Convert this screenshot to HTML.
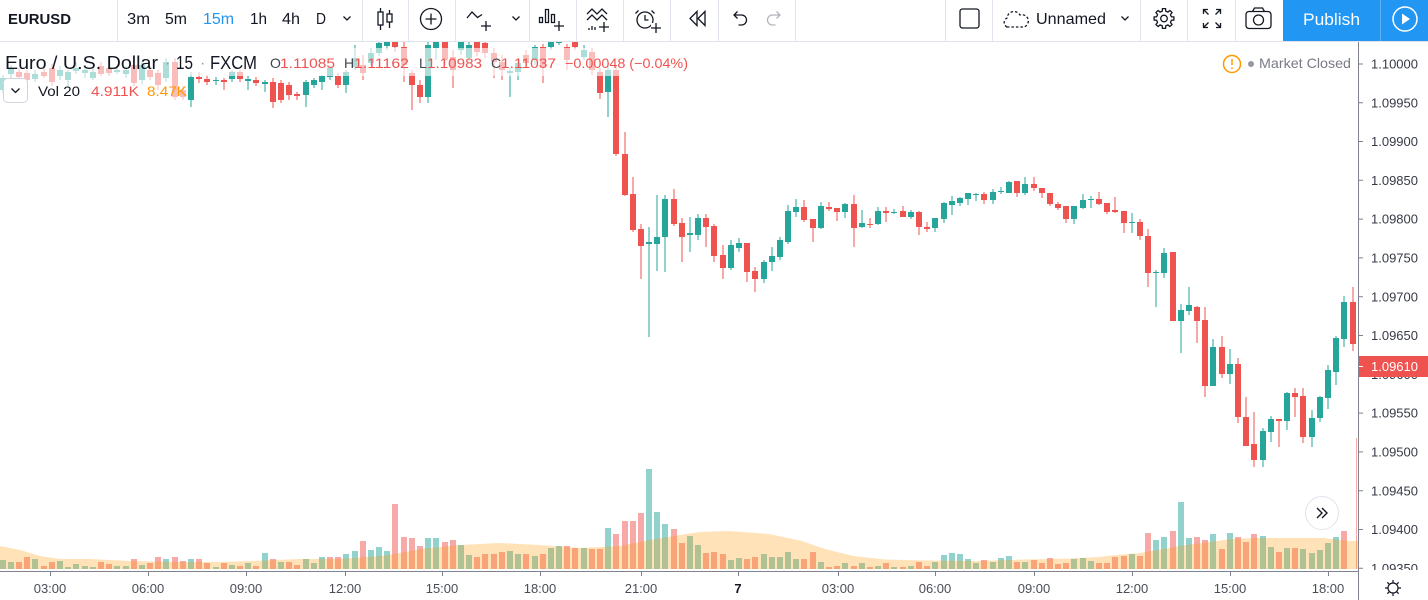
<!DOCTYPE html>
<html><head><meta charset="utf-8"><style>
html,body{margin:0;padding:0;background:#fff;width:1428px;height:600px;overflow:hidden}
svg{display:block}
text{font-family:"Liberation Sans",sans-serif}
</style></head><body>
<svg width="1428" height="600" viewBox="0 0 1428 600" xmlns="http://www.w3.org/2000/svg">
<defs>
<clipPath id="c"><rect x="0" y="42" width="1358" height="529"/></clipPath>
<clipPath id="pa"><rect x="1359" y="42" width="69" height="528"/></clipPath>
</defs>
<rect width="1428" height="600" fill="#fff"/>

<!-- CHART -->
<g clip-path="url(#c)">
<!-- volume -->
<path fill="rgba(38,166,154,0.5)" d="M0 560h6V569h-6zM8 562h6V569h-6zM32 559h6V569h-6zM57 561h6V569h-6zM65 567h6V569h-6zM73 564h6V569h-6zM82 566h6V569h-6zM90 567h6V569h-6zM114 566h6V569h-6zM123 566h6V569h-6zM139 565h6V569h-6zM163 559h6V569h-6zM188 559h6V569h-6zM213 567h6V569h-6zM229 565h6V569h-6zM245 563h6V569h-6zM262 553h6V569h-6zM278 562h6V569h-6zM303 559h6V569h-6zM311 563h6V569h-6zM319 557h6V569h-6zM343 554h6V569h-6zM352 551h6V569h-6zM368 550h6V569h-6zM376 547h6V569h-6zM384 551h6V569h-6zM425 538h6V569h-6zM433 538h6V569h-6zM458 545h6V569h-6zM466 555h6V569h-6zM507 551h6V569h-6zM515 554h6V569h-6zM532 556h6V569h-6zM548 548h6V569h-6zM556 546h6V569h-6zM581 548h6V569h-6zM605 528h6V569h-6zM646 469h6V569h-6zM654 512h6V569h-6zM662 524h6V569h-6zM687 536h6V569h-6zM695 545h6V569h-6zM728 560h6V569h-6zM736 558h6V569h-6zM761 554h6V569h-6zM769 557h6V569h-6zM777 557h6V569h-6zM785 552h6V569h-6zM793 559h6V569h-6zM818 562h6V569h-6zM842 563h6V569h-6zM859 563h6V569h-6zM875 566h6V569h-6zM891 567h6V569h-6zM908 566h6V569h-6zM932 562h6V569h-6zM941 555h6V569h-6zM949 553h6V569h-6zM957 554h6V569h-6zM965 559h6V569h-6zM973 563h6V569h-6zM990 562h6V569h-6zM998 558h6V569h-6zM1006 556h6V569h-6zM1022 562h6V569h-6zM1071 559h6V569h-6zM1080 558h6V569h-6zM1088 561h6V569h-6zM1129 554h6V569h-6zM1153 540h6V569h-6zM1161 537h6V569h-6zM1178 502h6V569h-6zM1186 538h6V569h-6zM1210 534h6V569h-6zM1227 533h6V569h-6zM1260 536h6V569h-6zM1268 547h6V569h-6zM1284 548h6V569h-6zM1300 549h6V569h-6zM1309 553h6V569h-6zM1317 550h6V569h-6zM1325 543h6V569h-6zM1333 537h6V569h-6z"/>
<path fill="rgba(239,83,80,0.5)" d="M16 562h6V569h-6zM24 557h6V569h-6zM41 566h6V569h-6zM49 562h6V569h-6zM98 562h6V569h-6zM106 564h6V569h-6zM131 559h6V569h-6zM147 563h6V569h-6zM155 557h6V569h-6zM172 557h6V569h-6zM180 561h6V569h-6zM196 559h6V569h-6zM204 563h6V569h-6zM221 563h6V569h-6zM237 566h6V569h-6zM253 566h6V569h-6zM270 559h6V569h-6zM286 562h6V569h-6zM294 565h6V569h-6zM327 557h6V569h-6zM335 557h6V569h-6zM360 541h6V569h-6zM392 504h6V569h-6zM401 537h6V569h-6zM409 538h6V569h-6zM417 546h6V569h-6zM442 542h6V569h-6zM450 540h6V569h-6zM474 557h6V569h-6zM482 554h6V569h-6zM491 554h6V569h-6zM499 552h6V569h-6zM523 554h6V569h-6zM540 554h6V569h-6zM564 546h6V569h-6zM572 548h6V569h-6zM589 549h6V569h-6zM597 549h6V569h-6zM613 534h6V569h-6zM622 521h6V569h-6zM630 521h6V569h-6zM638 513h6V569h-6zM671 529h6V569h-6zM679 543h6V569h-6zM703 553h6V569h-6zM711 552h6V569h-6zM720 554h6V569h-6zM744 559h6V569h-6zM752 557h6V569h-6zM801 559h6V569h-6zM810 552h6V569h-6zM826 567h6V569h-6zM834 566h6V569h-6zM851 566h6V569h-6zM867 567h6V569h-6zM883 563h6V569h-6zM900 567h6V569h-6zM916 562h6V569h-6zM924 566h6V569h-6zM981 560h6V569h-6zM1014 562h6V569h-6zM1031 560h6V569h-6zM1039 563h6V569h-6zM1047 558h6V569h-6zM1055 564h6V569h-6zM1063 563h6V569h-6zM1096 563h6V569h-6zM1104 563h6V569h-6zM1112 557h6V569h-6zM1121 556h6V569h-6zM1137 556h6V569h-6zM1145 533h6V569h-6zM1170 531h6V569h-6zM1194 537h6V569h-6zM1202 540h6V569h-6zM1219 549h6V569h-6zM1235 537h6V569h-6zM1243 542h6V569h-6zM1251 534h6V569h-6zM1276 552h6V569h-6zM1292 548h6V569h-6zM1341 531h6V569h-6z"/>
<rect x="1356" y="438" width="1" height="131" fill="rgba(239,83,80,0.5)"/>
<!-- volume MA area -->
<polygon fill="rgba(255,152,0,0.28)" points="0,546 20,550 40,556 60,559 90,559 130,561 180,562 220,562 250,561 300,559 340,559 380,556 400,553 420,549 460,545 500,543 540,545 580,548 620,546 650,540 680,535 700,532 728,531 769,534 802,541 825,549 853,556 885,559.5 931,560.5 978,561 1024,559.5 1070,558.5 1098,557 1116,555 1140,553 1163,549 1186,545 1209,542 1232,539 1255,538 1278,538 1301,538 1324,538 1348,541 1358,541 1358,569 0,569"/>

<!-- candles green -->
<g shape-rendering="crispEdges">
<path stroke="#26a69a" stroke-width="1" fill="none" d="M3 75V93M11 65V78M35 70V82M60 66V80M68 70V86M76 62V74M85 66V78M93 68V80M117 66V74M126 66V78M142 62V84M166 58V82M191 72V107M216 77V85M232 70V82M248 76V90M265 80V92M306 80V107M314 78V88M322 75V90M330 65V80M346 70V93M355 45V70M371 48V66M379 41V56M387 38V50M428 41V103M436 36V60M461 36V55M469 41V62M510 68V97M518 58V80M535 45V65M551 36V50M559 38V45M584 45V60M608 62V117M649 227V337M657 195V271M665 195V272M690 217V252M698 214V240M731 240V270M739 238V252M764 260V283M772 247V271M780 237V260M788 205V244M796 199V217M821 202V229M845 203V218M862 210V228M878 207V225M894 209V214M911 210V219M935 218V232M944 202V223M952 196V215M960 197V206M968 193V205M976 193V201M993 189V204M1001 187V194M1009 181V193M1025 177V195M1074 206V224M1083 194V209M1091 196V208M1132 213V233M1156 270V307M1164 248V278M1181 304V353M1189 287V315M1213 339V386M1230 349V384M1263 428V467M1271 416V442M1287 392V430M1312 410V447M1320 396V422M1328 365V409M1336 336V385M1344 296V347"/>
<path fill="#26a69a" d="M0 78h6V90h-6zM8 68h6V74h-6zM32 74h6V79h-6zM57 70h6V76h-6zM65 72h6V80h-6zM73 68h6V71h-6zM82 70h6V73h-6zM90 72h6V78h-6zM114 70h6V72h-6zM123 70h6V74h-6zM139 65h6V80h-6zM163 62h6V78h-6zM188 77h6V100h-6zM213 80h6V81h-6zM229 72h6V79h-6zM245 79h6V81h-6zM262 82h6V84h-6zM303 82h6V95h-6zM311 80h6V85h-6zM319 76h6V82h-6zM327 68h6V77h-6zM343 72h6V85h-6zM352 58h6V67h-6zM368 53h6V63h-6zM376 43h6V53h-6zM384 41h6V46h-6zM425 45h6V97h-6zM433 38h6V48h-6zM458 38h6V50h-6zM466 45h6V58h-6zM507 71h6V73h-6zM515 63h6V72h-6zM532 47h6V60h-6zM548 38h6V47h-6zM556 41h6V43h-6zM581 50h6V57h-6zM605 70h6V92h-6zM646 242h6V244h-6zM654 237h6V244h-6zM662 199h6V237h-6zM687 233h6V235h-6zM695 218h6V235h-6zM728 245h6V268h-6zM736 243h6V248h-6zM761 262h6V279h-6zM769 256h6V262h-6zM777 240h6V257h-6zM785 211h6V242h-6zM793 207h6V212h-6zM818 206h6V228h-6zM842 204h6V212h-6zM859 223h6V227h-6zM875 211h6V224h-6zM891 212h6V213h-6zM908 212h6V217h-6zM932 218h6V228h-6zM941 203h6V219h-6zM949 201h6V205h-6zM957 198h6V203h-6zM965 193h6V199h-6zM973 194h6V195h-6zM990 192h6V200h-6zM998 191h6V192h-6zM1006 182h6V193h-6zM1022 184h6V193h-6zM1071 206h6V219h-6zM1080 200h6V208h-6zM1088 199h6V200h-6zM1129 222h6V223h-6zM1153 272h6V273h-6zM1161 253h6V273h-6zM1178 310h6V321h-6zM1186 305h6V311h-6zM1210 347h6V386h-6zM1227 364h6V374h-6zM1260 431h6V460h-6zM1268 419h6V432h-6zM1284 393h6V421h-6zM1309 418h6V437h-6zM1317 397h6V418h-6zM1325 370h6V398h-6zM1333 338h6V372h-6zM1341 302h6V339h-6z"/>
<!-- candles red -->
<path stroke="#ef5350" stroke-width="1" fill="none" d="M19 68V80M27 70V84M44 68V78M52 64V86M101 62V76M109 66V76M134 62V86M150 66V80M158 70V90M175 58V100M183 86V100M199 72V83M207 75V85M224 78V90M240 70V82M256 77V86M273 78V108M281 80V103M289 82V100M297 92V100M338 73V88M363 55V80M395 36V52M404 41V82M412 70V110M420 80V103M445 36V65M453 50V88M477 36V56M485 40V58M494 48V78M502 55V80M526 50V66M543 44V83M567 44V70M575 36V50M592 48V75M600 68V99M616 66V156M625 132V196M633 177V232M641 224V279M674 189V226M682 218V262M706 214V247M714 224V262M723 245V279M747 243V282M755 267V292M804 200V222M813 219V242M829 202V211M837 208V221M854 195V247M870 218V228M886 207V222M903 206V217M919 211V235M927 222V232M984 192V204M1017 181V197M1034 177V191M1042 188V198M1050 193V206M1058 202V210M1066 206V223M1099 192V205M1107 203V214M1115 197V213M1124 211V233M1140 219V240M1148 229V287M1173 252V321M1197 306V343M1205 307V397M1222 336V378M1238 358V423M1246 397V446M1254 412V467M1279 419V447M1295 388V417M1303 388V443M1353 287V351"/>
<path fill="#ef5350" d="M16 72h6V77h-6zM24 73h6V80h-6zM41 72h6V76h-6zM49 68h6V82h-6zM98 66h6V74h-6zM106 68h6V73h-6zM131 65h6V83h-6zM147 70h6V77h-6zM155 73h6V85h-6zM172 62h6V97h-6zM180 90h6V97h-6zM196 77h6V79h-6zM204 79h6V82h-6zM221 80h6V82h-6zM237 72h6V79h-6zM253 80h6V83h-6zM270 82h6V102h-6zM278 83h6V100h-6zM286 85h6V95h-6zM294 94h6V96h-6zM335 76h6V85h-6zM360 65h6V73h-6zM392 38h6V47h-6zM401 47h6V65h-6zM409 73h6V85h-6zM417 85h6V97h-6zM442 38h6V60h-6zM450 57h6V70h-6zM474 38h6V52h-6zM482 43h6V53h-6zM491 53h6V62h-6zM499 62h6V70h-6zM523 55h6V63h-6zM540 47h6V67h-6zM564 47h6V60h-6zM572 38h6V47h-6zM589 52h6V70h-6zM597 72h6V93h-6zM613 70h6V154h-6zM622 154h6V195h-6zM630 194h6V230h-6zM638 229h6V246h-6zM671 199h6V224h-6zM679 223h6V237h-6zM703 218h6V227h-6zM711 226h6V256h-6zM720 255h6V268h-6zM744 243h6V272h-6zM752 271h6V279h-6zM801 207h6V220h-6zM810 219h6V228h-6zM826 207h6V209h-6zM834 208h6V212h-6zM851 204h6V228h-6zM867 224h6V225h-6zM883 211h6V213h-6zM900 211h6V217h-6zM916 212h6V227h-6zM924 227h6V229h-6zM981 194h6V200h-6zM1014 181h6V193h-6zM1031 184h6V188h-6zM1039 188h6V193h-6zM1047 193h6V204h-6zM1055 204h6V208h-6zM1063 206h6V219h-6zM1096 199h6V204h-6zM1104 203h6V212h-6zM1112 210h6V212h-6zM1121 211h6V223h-6zM1137 222h6V236h-6zM1145 236h6V273h-6zM1170 252h6V321h-6zM1194 307h6V321h-6zM1202 320h6V386h-6zM1219 347h6V374h-6zM1235 364h6V417h-6zM1243 417h6V446h-6zM1251 444h6V460h-6zM1276 419h6V421h-6zM1292 393h6V397h-6zM1300 396h6V437h-6zM1350 302h6V344h-6z"/>
</g>
<!-- legend fade -->
<rect x="0" y="48" width="695" height="28" fill="#fff" fill-opacity="0.62"/>
<rect x="0" y="76" width="188" height="30" fill="#fff" fill-opacity="0.62"/>
</g>

<!-- legend text -->
<text x="5" y="69" font-size="18" fill="#131722" textLength="153" lengthAdjust="spacingAndGlyphs">Euro / U.S. Dollar</text>
<text x="165" y="68" font-size="16" fill="#9598a1">·</text>
<text x="176" y="69" font-size="18" fill="#131722" textLength="17" lengthAdjust="spacingAndGlyphs">15</text>
<text x="200" y="68" font-size="16" fill="#9598a1">·</text>
<text x="210" y="69" font-size="18" fill="#131722" textLength="47" lengthAdjust="spacingAndGlyphs">FXCM</text>
<g font-size="14">
<text x="270" y="68" fill="#434651">O</text>
<text x="280" y="68" fill="#ef5350" textLength="55" lengthAdjust="spacingAndGlyphs">1.11085</text>
<text x="344" y="68" fill="#434651">H</text>
<text x="354" y="68" fill="#ef5350" textLength="55" lengthAdjust="spacingAndGlyphs">1.11162</text>
<text x="419" y="68" fill="#434651">L</text>
<text x="427" y="68" fill="#ef5350" textLength="55" lengthAdjust="spacingAndGlyphs">1.10983</text>
<text x="491" y="68" fill="#434651">C</text>
<text x="501" y="68" fill="#ef5350" textLength="55" lengthAdjust="spacingAndGlyphs">1.11037</text>
<text x="565" y="68" fill="#ef5350" textLength="123" lengthAdjust="spacingAndGlyphs">−0.00048 (−0.04%)</text>
</g>
<rect x="3.5" y="78.5" width="24" height="24" rx="4" fill="#fff" stroke="#d1d4dc"/>
<path d="M11.5 88.5l4 4 4-4" fill="none" stroke="#131722" stroke-width="1.3"/>
<text x="38" y="96" font-size="14" fill="#131722" textLength="42" lengthAdjust="spacingAndGlyphs">Vol 20</text>
<text x="91" y="96" font-size="14" fill="#ef5350" textLength="48" lengthAdjust="spacingAndGlyphs">4.911K</text>
<text x="147" y="96" font-size="14" fill="#ff9800" textLength="40" lengthAdjust="spacingAndGlyphs">8.47K</text>

<!-- market closed -->
<circle cx="1232" cy="64" r="8.5" fill="#fff" stroke="#ff9800" stroke-width="1.5"/>
<path d="M1232 59v6" stroke="#ff9800" stroke-width="1.5"/>
<circle cx="1232" cy="68.3" r="0.9" fill="#ff9800"/>
<circle cx="1251" cy="64" r="3" fill="#9598a1"/>
<text x="1259" y="68" font-size="14" fill="#787b86" textLength="92" lengthAdjust="spacingAndGlyphs">Market Closed</text>

<!-- scroll button -->
<circle cx="1322" cy="513" r="16.5" fill="#fff" stroke="#e0e3eb"/>
<path d="M1317 508l5 5-5 5M1322 508l5 5-5 5" fill="none" stroke="#131722" stroke-width="1.4"/>

<!-- TIME AXIS -->
<rect x="0" y="571" width="1428" height="29" fill="#fff"/>
<path d="M0 571.5H1358" stroke="#7f828c" stroke-width="1"/>
<path stroke="#7f828c" d="M50.5 572v4M148.5 572v4M246.5 572v4M345.5 572v4M442.5 572v4M540.5 572v4M641.5 572v4M738.5 572v4M838.5 572v4M935.5 572v4M1034.5 572v4M1132.5 572v4M1230.5 572v4M1328.5 572v4"/>
<g font-size="13" fill="#4a4d57" text-anchor="middle">
<text x="50" y="593">03:00</text><text x="148" y="593">06:00</text><text x="246" y="593">09:00</text><text x="345" y="593">12:00</text><text x="442" y="593">15:00</text><text x="540" y="593">18:00</text><text x="641" y="593">21:00</text><text x="738" y="593" font-weight="bold" fill="#131722">7</text><text x="838" y="593">03:00</text><text x="935" y="593">06:00</text><text x="1034" y="593">09:00</text><text x="1132" y="593">12:00</text><text x="1230" y="593">15:00</text><text x="1328" y="593">18:00</text>
</g>
<!-- gear bottom right -->
<g stroke="#131722" stroke-width="1.2" fill="none">
<circle cx="1393" cy="588" r="5"/>
<path d="M1393 580v2.5M1393 593.5v2.5M1385 588h2.5M1398.5 588h2.5M1387.3 582.3l1.8 1.8M1396.9 591.9l1.8 1.8M1398.7 582.3l-1.8 1.8M1389.1 591.9l-1.8 1.8"/>
</g>

<!-- PRICE AXIS -->
<rect x="1359" y="42" width="69" height="529" fill="#fff"/>
<path d="M1358.5 42V600" stroke="#7f828c"/>
<path stroke="#7f828c" d="M1359 64h4M1359 102.7h4M1359 141.5h4M1359 180.3h4M1359 219.1h4M1359 257.9h4M1359 296.7h4M1359 335.5h4M1359 374.3h4M1359 413.1h4M1359 451.9h4M1359 490.7h4M1359 529.5h4M1359 568.3h4"/>
<g font-size="13" fill="#363a45" clip-path="url(#pa)">
<text x="1371" y="68.5">1.10000</text>
<text x="1371" y="107.3">1.09950</text>
<text x="1371" y="146.1">1.09900</text>
<text x="1371" y="184.9">1.09850</text>
<text x="1371" y="223.7">1.09800</text>
<text x="1371" y="262.5">1.09750</text>
<text x="1371" y="301.3">1.09700</text>
<text x="1371" y="340.1">1.09650</text>
<text x="1371" y="378.9">1.09600</text>
<text x="1371" y="417.7">1.09550</text>
<text x="1371" y="456.5">1.09500</text>
<text x="1371" y="495.3">1.09450</text>
<text x="1371" y="534.1">1.09400</text>
<text x="1371" y="572.9">1.09350</text>
</g>
<rect x="1359" y="356" width="69" height="21" fill="#ef5350"/>
<path d="M1359 366.5h4" stroke="#fff"/>
<text x="1371" y="371" font-size="13" fill="#fff">1.09610</text>

<!-- TOOLBAR -->
<rect x="0" y="0" width="1428" height="41" fill="#fff"/>
<path d="M0 41.5H1428" stroke="#e0e3eb"/>
<path stroke="#e0e3eb" d="M117.5 0v41M362.5 0v41M408.5 0v41M455.5 0v41M529.5 0v41M576.5 0v41M623.5 0v41M670.5 0v41M718.5 0v41M795.5 0v41M945.5 0v41M992.5 0v41M1140.5 0v41M1187.5 0v41M1235.5 0v41"/>
<text x="8" y="24" font-size="15" font-weight="bold" fill="#131722" textLength="63" lengthAdjust="spacingAndGlyphs">EURUSD</text>
<g font-size="16" fill="#131722">
<text x="127" y="24" textLength="23" lengthAdjust="spacingAndGlyphs">3m</text>
<text x="165" y="24" textLength="22" lengthAdjust="spacingAndGlyphs">5m</text>
<text x="203" y="24" fill="#2196f3" textLength="31" lengthAdjust="spacingAndGlyphs">15m</text>
<text x="250" y="24" textLength="17" lengthAdjust="spacingAndGlyphs">1h</text>
<text x="282" y="24" textLength="18" lengthAdjust="spacingAndGlyphs">4h</text>
<text x="316" y="24" textLength="10" lengthAdjust="spacingAndGlyphs">D</text>
<text x="1036" y="24" textLength="70" lengthAdjust="spacingAndGlyphs">Unnamed</text>
</g>
<g fill="none" stroke="#131722" stroke-width="1.3">
<path d="M343.5 16.5l3.5 3.5 3.5-3.5"/>
<!-- candle icon -->
<path d="M380.5 8v22M389.5 10v18"/>
<rect x="378" y="12" width="5" height="13" fill="#fff"/>
<rect x="387" y="14" width="5" height="8" fill="#fff"/>
<!-- circle plus -->
<circle cx="431" cy="19" r="10.5"/>
<path d="M431 13.5v11M425.5 19h11"/>
<!-- indicator -->
<path d="M467 18l5-6 5.5 5.5 4.5-3"/>
<path d="M486 21v10M481 26h10"/>
<path d="M512.5 16.5l3.5 3.5 3.5-3.5"/>
<!-- bars plus -->
<path d="M539.5 22.5v-5h3v5zM545.5 22.5v-13h3v13zM551.5 22.5v-8h3v8z"/>
<path d="M559 21v10M554 26h10"/>
<!-- pattern -->
<path d="M587 14l5-5 5 5 5-5 5 5M587 20l5-5 5 5 5-5 5 5M589 30v-2M592 30v-4M595 30v-3"/>
<path d="M604 22v10M599 27h10"/>
<!-- alarm -->
<circle cx="645" cy="20" r="8"/>
<path d="M638.5 10.5l-3 3M651.5 10.5l3 3M645 15v5h3.5"/>
<rect x="651" y="23" width="10" height="10" fill="#fff" stroke="none"/>
<path d="M656 23v10M651 28h10"/>
<!-- rewind -->
<path d="M705 11.5v14l-7-7zM697 11.5v14l-7-7z"/>
<!-- undo -->
<path d="M734 15h7.5a5 5 0 0 1 0 10h-3M737.5 11.5l-3.5 3.5 3.5 3.5"/>
</g>
<path d="M780 15h-7.5a5 5 0 0 0 0 10h3M776.5 11.5l3.5 3.5-3.5 3.5" fill="none" stroke="#b2b5be" stroke-width="1.3"/>
<!-- right icons -->
<g fill="none" stroke="#131722" stroke-width="1.3">
<rect x="960" y="9" width="19" height="19" rx="2.5"/>
<path d="M1007 27a5 5 0 0 1 0-9a7 7 0 0 1 13-3a5.5 5.5 0 0 1 4 12z" stroke-dasharray="2.5 2"/>
<path d="M1121.5 16.5l3.5 3.5 3.5-3.5"/>
<circle cx="1164" cy="18.5" r="3.3"/>
<polygon stroke-linejoin="round" points="1171.4,16.8 1173.9,16.9 1173.9,20.1 1171.4,20.2 1170.4,22.5 1172.1,24.4 1169.9,26.6 1168.0,24.9 1165.7,25.9 1165.6,28.4 1162.4,28.4 1162.3,25.9 1160.0,24.9 1158.1,26.6 1155.9,24.4 1157.6,22.5 1156.6,20.2 1154.1,20.1 1154.1,16.9 1156.6,16.8 1157.6,14.5 1155.9,12.6 1158.1,10.4 1160.0,12.1 1162.3,11.1 1162.4,8.6 1165.6,8.6 1165.7,11.1 1168.0,12.1 1169.9,10.4 1172.1,12.6 1170.4,14.5"/>
<path d="M1203.5 9.5l5 5M1203.5 14v-4.5h4.5M1220.5 9.5l-5 5M1216 9.5h4.5v4.5M1203.5 27.5l5-5M1203.5 23v4.5h4.5M1220.5 27.5l-5-5M1216 27.5h4.5v-4.5"/>
<rect x="1246" y="11.5" width="25" height="17" rx="3"/>
<path d="M1252.5 11.5l2-3.5h8l2 3.5"/>
<circle cx="1258.5" cy="20" r="5"/>
</g>
<rect x="1283" y="0" width="145" height="41" fill="#2196f3"/>
<path d="M1380.5 0v41" stroke="#5eb1f5"/>
<text x="1303" y="25" font-size="17" fill="#fff" textLength="57" lengthAdjust="spacingAndGlyphs">Publish</text>
<circle cx="1405" cy="19" r="12" fill="none" stroke="#fff" stroke-width="1.5"/>
<path d="M1402 13.5v11l8-5.5z" fill="#fff"/>
</svg>
</body></html>
